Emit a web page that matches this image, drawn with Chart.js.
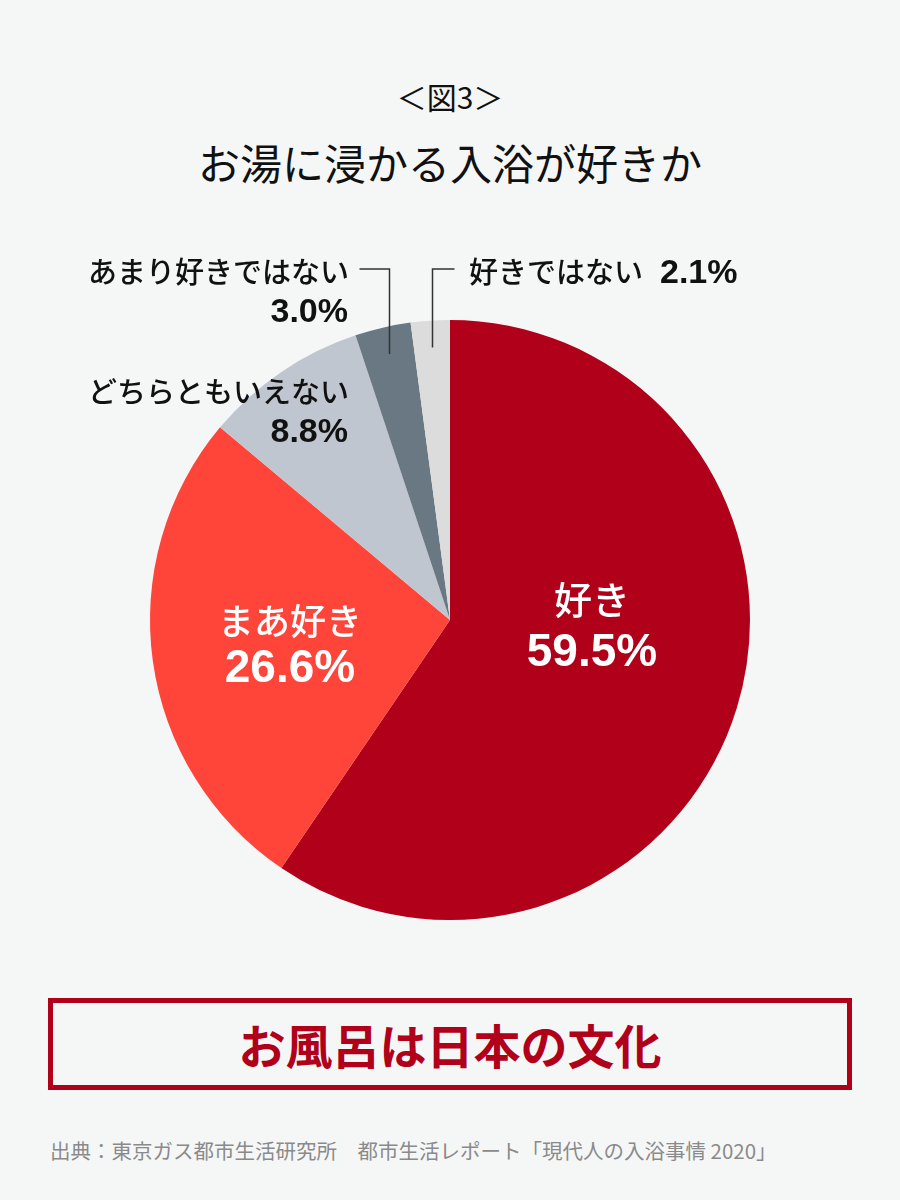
<!DOCTYPE html>
<html lang="ja">
<head>
<meta charset="utf-8">
<script src="https://cdn.jsdelivr.net/npm/chart.js@4.4.1/dist/chart.umd.min.js"></script>
<style>
  html, body { margin: 0; padding: 0; }
  body {
    width: 900px; height: 1200px; position: relative; overflow: hidden;
    background: #F5F7F7;
    font-family: "Noto Sans CJK JP", "Noto Sans", sans-serif;
    color: #111;
  }
  .fig { position: absolute; top: 76px; width: 900px; text-align: center; font-size: 30px; line-height: 40px; }
  .title { position: absolute; top: 133px; width: 900px; text-align: center; font-size: 42px; line-height: 58px; }
  #wrap { position: absolute; left: 0; top: 230px; width: 900px; height: 710px; }
  .box {
    position: absolute; left: 48px; top: 998px; width: 794px; height: 82px;
    border: 5px solid #B0001A; text-align: center;
    font-size: 47px; font-weight: bold; line-height: 82px; color: #B0001A;
  }
  .src { position: absolute; left: 50px; top: 1136px; font-size: 20.5px; line-height: 28px; color: #8a8a8a; white-space: pre; }
</style>
</head>
<body>
<div class="fig">＜図3＞</div>
<div class="title">お湯に浸かる入浴が好きか</div>
<div id="wrap"><canvas id="pie"></canvas></div>
<div class="box">お風呂は日本の文化</div>
<div class="src">出典：東京ガス都市生活研究所　都市生活レポート「現代人の入浴事情 2020」</div>

<script>
const categories = ['好き', 'まあ好き', 'どちらともいえない', 'あまり好きではない', '好きではない'];
const shares = [59.5, 26.6, 8.8, 3.0, 2.1];
const sliceColors = ['#B0001A', '#FF443A', '#C0C6CF', '#697883', '#DCDCDC'];

const JP = '"Noto Sans CJK JP", sans-serif';
const NUM = '"Liberation Sans", Arial, sans-serif';

// labels inside the two big slices, leader lines for the small ones
const labelPlugin = {
    id: 'sliceLabels',
    afterDraw(chart) {
        const ctx = chart.ctx;
        const arcs = chart.getDatasetMeta(0).data;
        const cx = arcs[0].x, cy = arcs[0].y;
        const pct = i => shares[i].toFixed(1) + '%';

        ctx.save();
        ctx.textBaseline = 'middle';

        // inside
        ctx.fillStyle = '#fff';
        ctx.textAlign = 'center';
        ctx.font = '500 38px ' + JP;
        ctx.fillText(categories[0], cx + 142, cy - 20);
        ctx.font = 'bold 46px ' + NUM;
        ctx.fillText(pct(0), cx + 142, cy + 33);
        ctx.font = '500 36px ' + JP;
        ctx.fillText(categories[1], cx - 160, cy + 1);
        ctx.font = 'bold 46px ' + NUM;
        ctx.fillText(pct(1), cx - 160, cy + 49);

        // outside
        ctx.fillStyle = '#111';
        ctx.textAlign = 'right';
        ctx.font = '500 29px ' + JP;
        ctx.fillText(categories[2], cx - 101, cy - 228);
        ctx.font = 'bold 34px ' + NUM;
        ctx.fillText(pct(2), cx - 102, cy - 187);
        ctx.font = '500 29px ' + JP;
        ctx.fillText(categories[3], cx - 101, cy - 348);
        ctx.font = 'bold 34px ' + NUM;
        ctx.fillText(pct(3), cx - 102, cy - 307);

        ctx.textAlign = 'left';
        ctx.font = '500 29px ' + JP;
        ctx.fillText(categories[4], cx + 19, cy - 348);
        const w = ctx.measureText(categories[4]).width;
        ctx.font = 'bold 34px ' + NUM;
        ctx.fillText(pct(4), cx + 36 + w, cy - 346);

        // leader lines
        const lineY = cy - 351;
        ctx.strokeStyle = '#333';
        ctx.lineWidth = 1.5;
        [3, 4].forEach(i => {
            const a = arcs[i];
            const mid = (a.startAngle + a.endAngle) / 2;
            const r = a.outerRadius * 0.91;
            const px = Math.round(cx + r * Math.cos(mid)) + 0.5;
            const py = cy + r * Math.sin(mid);
            ctx.beginPath();
            ctx.moveTo(px, py);
            ctx.lineTo(px, lineY);
            ctx.lineTo(i === 3 ? px - 30 : px + 22, lineY);
            ctx.stroke();
        });
        ctx.restore();
    }
};

new Chart(document.getElementById('pie'), {
    type: 'pie',
    data: {
        labels: categories,
        datasets: [{
            data: shares,
            backgroundColor: sliceColors,
            borderWidth: 0
        }]
    },
    options: {
        responsive: true,
        maintainAspectRatio: false,
        animation: false,
        layout: { padding: { top: 90, bottom: 20 } },
        plugins: {
            legend: { display: false },
            tooltip: { enabled: false }
        }
    },
    plugins: [labelPlugin]
});
</script>
</body>
</html>
